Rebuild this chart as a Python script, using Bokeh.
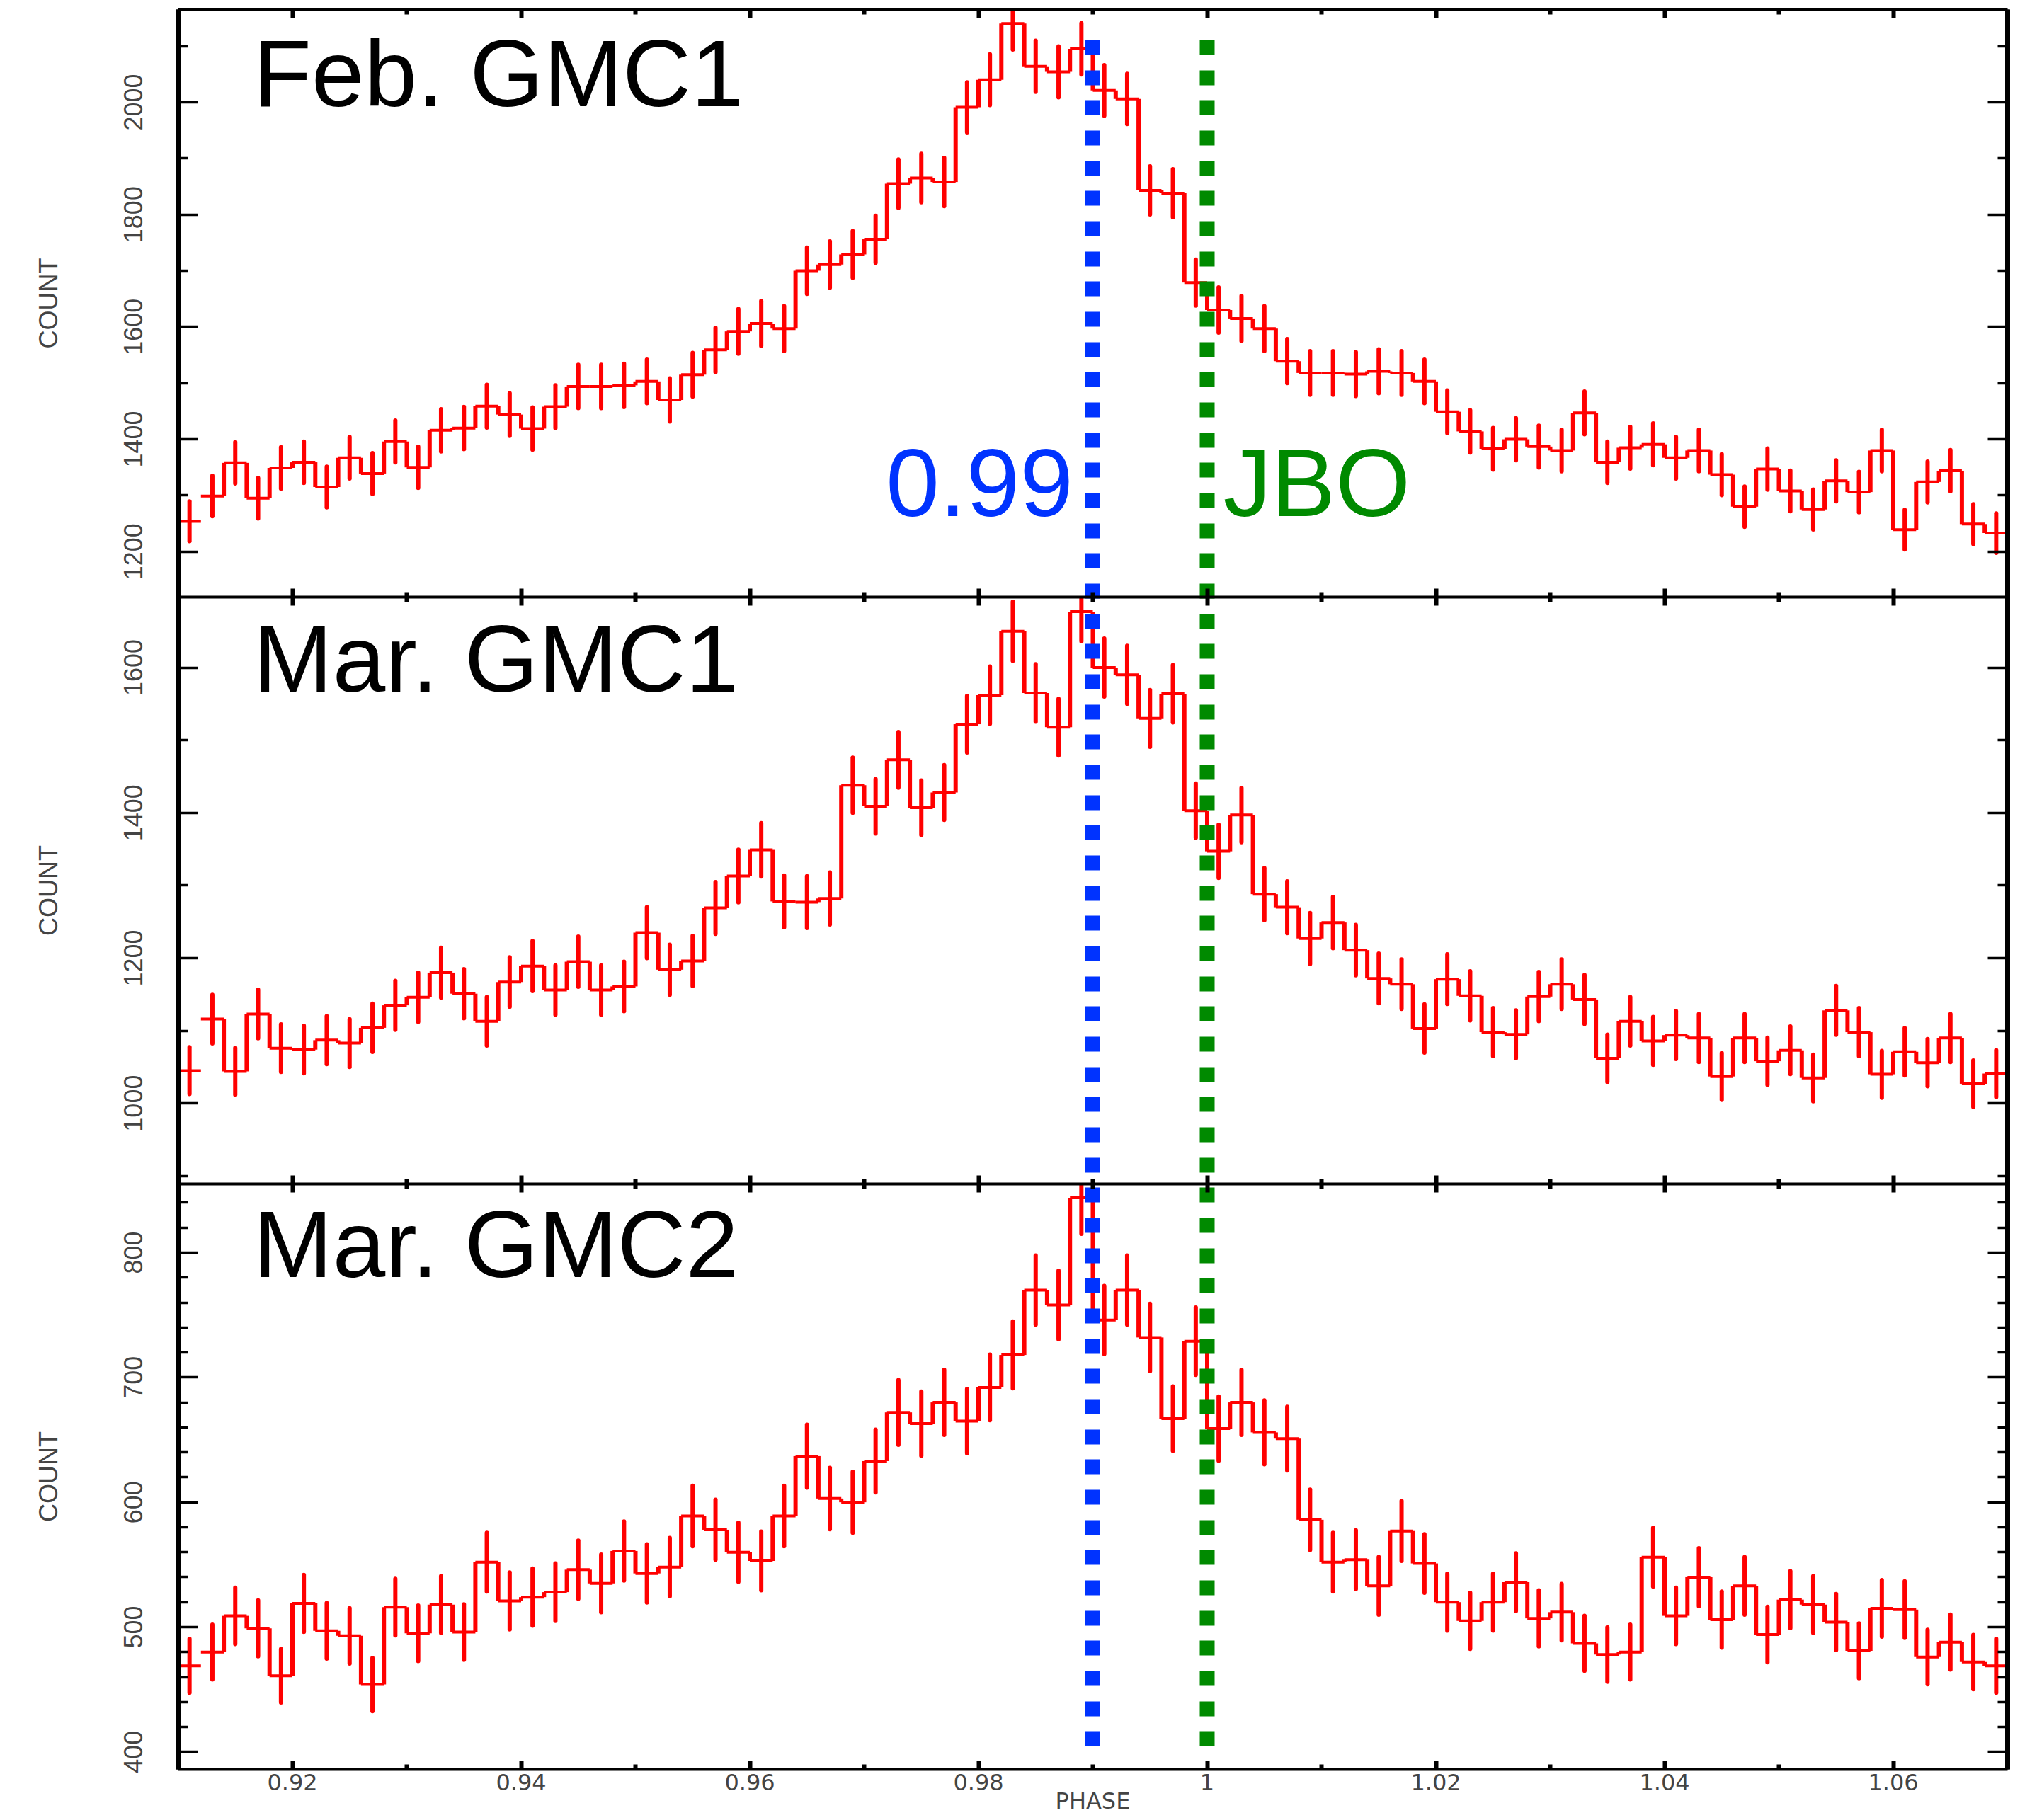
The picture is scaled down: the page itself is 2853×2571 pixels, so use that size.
import numpy as np
from bokeh.plotting import figure
from bokeh.models import (ColumnDataSource, Range1d, LinearAxis, FixedTicker,
                          CustomJSTickFormatter, Label)
from bokeh.layouts import column
from bokeh.embed import file_html
from bokeh.resources import INLINE

# ---------------- data ----------------
bin_width = 0.002
phase_centers = np.round(0.911 + bin_width * np.arange(80), 4)

feb_gmc1 = [1254, 1299, 1358, 1295, 1349, 1359, 1315, 1367, 1339, 1396,
            1350, 1416, 1420, 1459, 1444, 1419, 1458, 1494, 1494, 1496,
            1503, 1470, 1515, 1559, 1592, 1606, 1597, 1700, 1711, 1729,
            1756, 1855, 1865, 1858, 1991, 2040, 2140, 2064, 2054, 2095,
            2021, 2006, 1843, 1838, 1679, 1630, 1615, 1597, 1539, 1518,
            1518, 1516, 1521, 1518, 1503, 1449, 1414, 1383, 1400, 1387,
            1380, 1447, 1359, 1385, 1391, 1367, 1380, 1337, 1280, 1347,
            1308, 1275, 1326, 1306, 1380, 1239, 1324, 1344, 1249, 1233]

mar_gmc1 = [1045, 1116, 1044, 1123, 1076, 1074, 1087, 1083, 1104, 1135,
            1146, 1180, 1151, 1113, 1167, 1189, 1156, 1195, 1156, 1161,
            1235, 1184, 1196, 1269, 1313, 1349, 1278, 1277, 1282, 1438,
            1409, 1473, 1407, 1428, 1522, 1562, 1650, 1565, 1518, 1677,
            1600, 1590, 1530, 1564, 1403, 1347, 1397, 1288, 1270, 1227,
            1249, 1211, 1172, 1164, 1103, 1171, 1148, 1098, 1095, 1147,
            1164, 1143, 1062, 1113, 1086, 1094, 1090, 1037, 1090, 1058,
            1073, 1035, 1128, 1098, 1040, 1071, 1056, 1090, 1027, 1041]

mar_gmc2 = [469, 480, 509, 499, 461, 519, 497, 493, 454, 516,
            495, 518, 496, 552, 521, 524, 528, 546, 535, 561,
            543, 548, 589, 578, 560, 553, 589, 637, 603, 600,
            633, 672, 663, 680, 665, 692, 718, 770, 758, 844,
            746, 770, 732, 667, 729, 659, 680, 656, 651, 586,
            552, 554, 533, 577, 551, 520, 505, 520, 536, 507,
            512, 487, 478, 480, 556, 509, 540, 506, 533, 494,
            522, 518, 504, 481, 515, 514, 476, 488, 472, 469]

panel_names = ["Feb. GMC1", "Mar. GMC1", "Mar. GMC2"]
panel_counts = [feb_gmc1, mar_gmc1, mar_gmc2]
panel_yranges = [(1119, 2165), (889, 1697), (386, 855)]
panel_major_ticks = [[1200, 1400, 1600, 1800, 2000],
                     [1000, 1200, 1400, 1600],
                     [400, 500, 600, 700, 800]]
panel_minor_ticks = [[1100, 1300, 1500, 1700, 1900, 2100],
                     [900, 1100, 1300, 1500],
                     [420, 440, 460, 480, 520, 540, 560, 580, 620, 640, 660, 680,
                      720, 740, 760, 780, 820, 840]]
# text baseline positions (data units) of the panel names
panel_name_y = [2051, 1612, 807]
panel_name_x = 0.9166

x_major_ticks = [0.92, 0.94, 0.96, 0.98, 1.00, 1.02, 1.04, 1.06]
x_major_labels = ["0.92", "0.94", "0.96", "0.98", "1", "1.02", "1.04", "1.06"]
x_minor_ticks = [0.91, 0.93, 0.95, 0.97, 0.99, 1.01, 1.03, 1.05, 1.07]

marker_phases = [0.99, 1.00]
marker_texts = ["0.99", "JBO"]
marker_text_x = [0.9719, 1.0014]
marker_text_y = 1323
marker_colors = ["#0033ff", "#008a00"]

# ---------------- geometry / style ----------------
W = 2853
LEFT, RIGHT = 251, 18
TOP_PAD, BOTTOM_PAD = 13, 72
FRAME_H = [830, 829, 827]
frame_tops = [TOP_PAD, TOP_PAD + FRAME_H[0], TOP_PAD + FRAME_H[0] + FRAME_H[1]]
DOT_START, DOT_END = 56, 2467
DOT_PATTERN = [21, 22, 21, 21, 21, 22]
DOT_PERIOD = sum(DOT_PATTERN)

RED = "#ff0000"
xr = Range1d(0.91, 1.07)

empty_fmt = CustomJSTickFormatter(code="return '';")
x_fmt = CustomJSTickFormatter(args=dict(vals=x_major_ticks, labs=x_major_labels), code="""
let best = 0, d = Infinity;
for (let i = 0; i < vals.length; i++) {
  const e = Math.abs(vals[i] - tick);
  if (e < d) { d = e; best = i; }
}
return d < 1e-6 ? labs[best] : '';
""")


def style_x_axis(ax, labels):
    ax.ticker = FixedTicker(ticks=x_major_ticks, minor_ticks=x_minor_ticks)
    ax.major_tick_in = 12
    ax.major_tick_out = 0
    ax.minor_tick_in = 7
    ax.minor_tick_out = 0
    ax.major_tick_line_width = 6
    ax.minor_tick_line_width = 6
    ax.axis_line_width = 4
    ax.axis_line_color = "black"
    if labels:
        ax.formatter = x_fmt
        ax.major_label_text_font = "DejaVu Sans"
        ax.major_label_text_font_size = "32px"
        ax.major_label_standoff = 6
        ax.axis_label = "PHASE"
        ax.axis_label_text_font = "DejaVu Sans"
        ax.axis_label_text_font_size = "32px"
        ax.axis_label_text_font_style = "normal"
        ax.axis_label_standoff = -7
    else:
        ax.formatter = empty_fmt
        ax.major_label_text_font_size = "0px"
        ax.major_label_standoff = 0
        ax.axis_label = None


def style_y_axis(ax, major, minor, labels):
    ax.ticker = FixedTicker(ticks=major, minor_ticks=minor)
    ax.major_tick_in = 28
    ax.major_tick_out = 0
    ax.minor_tick_in = 14
    ax.minor_tick_out = 0
    ax.major_tick_line_width = 3.5
    ax.minor_tick_line_width = 3.5
    ax.axis_line_width = 7
    ax.axis_line_color = "black"
    if labels:
        ax.major_label_orientation = "vertical"
        ax.major_label_text_font = "Liberation Sans"
        ax.major_label_text_font_size = "36px"
        ax.major_label_standoff = 50
        ax.axis_label = "COUNT"
        ax.axis_label_text_font = "Liberation Sans"
        ax.axis_label_text_font_size = "36px"
        ax.axis_label_text_font_style = "normal"
        ax.axis_label_standoff = 84
    else:
        ax.formatter = empty_fmt
        ax.major_label_text_font_size = "0px"
        ax.major_label_standoff = 0
        ax.axis_label = None


figs = []
for i in range(3):
    counts = np.array(panel_counts[i], dtype=float)
    errs = np.sqrt(counts)
    lo, hi = panel_yranges[i]
    top_pad = TOP_PAD if i == 0 else 0
    bot_pad = BOTTOM_PAD if i == 2 else 0
    p = figure(width=W, height=FRAME_H[i] + top_pad + bot_pad,
               x_range=xr, y_range=Range1d(lo, hi),
               output_backend="svg", toolbar_location=None,
               min_border_left=LEFT, min_border_right=RIGHT,
               min_border_top=top_pad, min_border_bottom=bot_pad)
    p.xgrid.grid_line_color = None
    p.ygrid.grid_line_color = None
    p.outline_line_color = None
    p.background_fill_color = "white"
    p.border_fill_color = "white"

    style_x_axis(p.xaxis[0], labels=(i == 2))
    style_y_axis(p.yaxis[0], panel_major_ticks[i], panel_minor_ticks[i], labels=True)
    top_ax = LinearAxis()
    style_x_axis(top_ax, labels=False)
    p.add_layout(top_ax, "above")
    right_ax = LinearAxis()
    style_y_axis(right_ax, panel_major_ticks[i], panel_minor_ticks[i], labels=False)
    p.add_layout(right_ax, "right")

    left_edges = phase_centers - bin_width / 2
    right_edges = phase_centers + bin_width / 2

    # horizontal steps (bin widths)
    hsrc = ColumnDataSource(dict(x0=left_edges, x1=right_edges, y=counts))
    p.segment(x0="x0", x1="x1", y0="y", y1="y", source=hsrc,
              line_color=RED, line_width=4)
    # vertical step connectors (first bin stands alone, as in the original)
    csrc = ColumnDataSource(dict(x=right_edges[1:-1], y0=counts[1:-1], y1=counts[2:]))
    p.segment(x0="x", x1="x", y0="y0", y1="y1", source=csrc,
              line_color=RED, line_width=6)
    # poisson error bars
    esrc = ColumnDataSource(dict(x=phase_centers, lo=counts - errs, hi=counts + errs))
    p.segment(x0="x", x1="x", y0="lo", y1="hi", source=esrc,
              line_color=RED, line_width=6, line_cap="round")

    # dotted marker lines, continuous pattern across the panels
    T = frame_tops[i]
    H = FRAME_H[i]
    s_top = max(DOT_START, T)
    s_bot = min(DOT_END, T + H)

    def y_of(px):
        return hi - (px - T) / H * (hi - lo)

    offset = int(round((s_top - DOT_START) % DOT_PERIOD))
    for ph, col in zip(marker_phases, marker_colors):
        p.segment(x0=[ph], x1=[ph], y0=[y_of(s_top)], y1=[y_of(s_bot)],
                  line_color=col, line_width=21,
                  line_dash=" ".join(str(v) for v in DOT_PATTERN),
                  line_dash_offset=offset)

    p.add_layout(Label(x=panel_name_x, y=panel_name_y[i], text=panel_names[i],
                       text_font="Liberation Sans", text_font_size="134px",
                       text_color="black", text_baseline="alphabetic",
                       text_align="left"))
    if i == 0:
        for t, tx, col in zip(marker_texts, marker_text_x, marker_colors):
            p.add_layout(Label(x=tx, y=marker_text_y, text=t,
                               text_font="Liberation Sans", text_font_size="136px",
                               text_color=col, text_baseline="alphabetic",
                               text_align="left"))
    figs.append(p)

layout = column(*figs, spacing=0)
open("out.html", "w").write(file_html(layout, INLINE))
